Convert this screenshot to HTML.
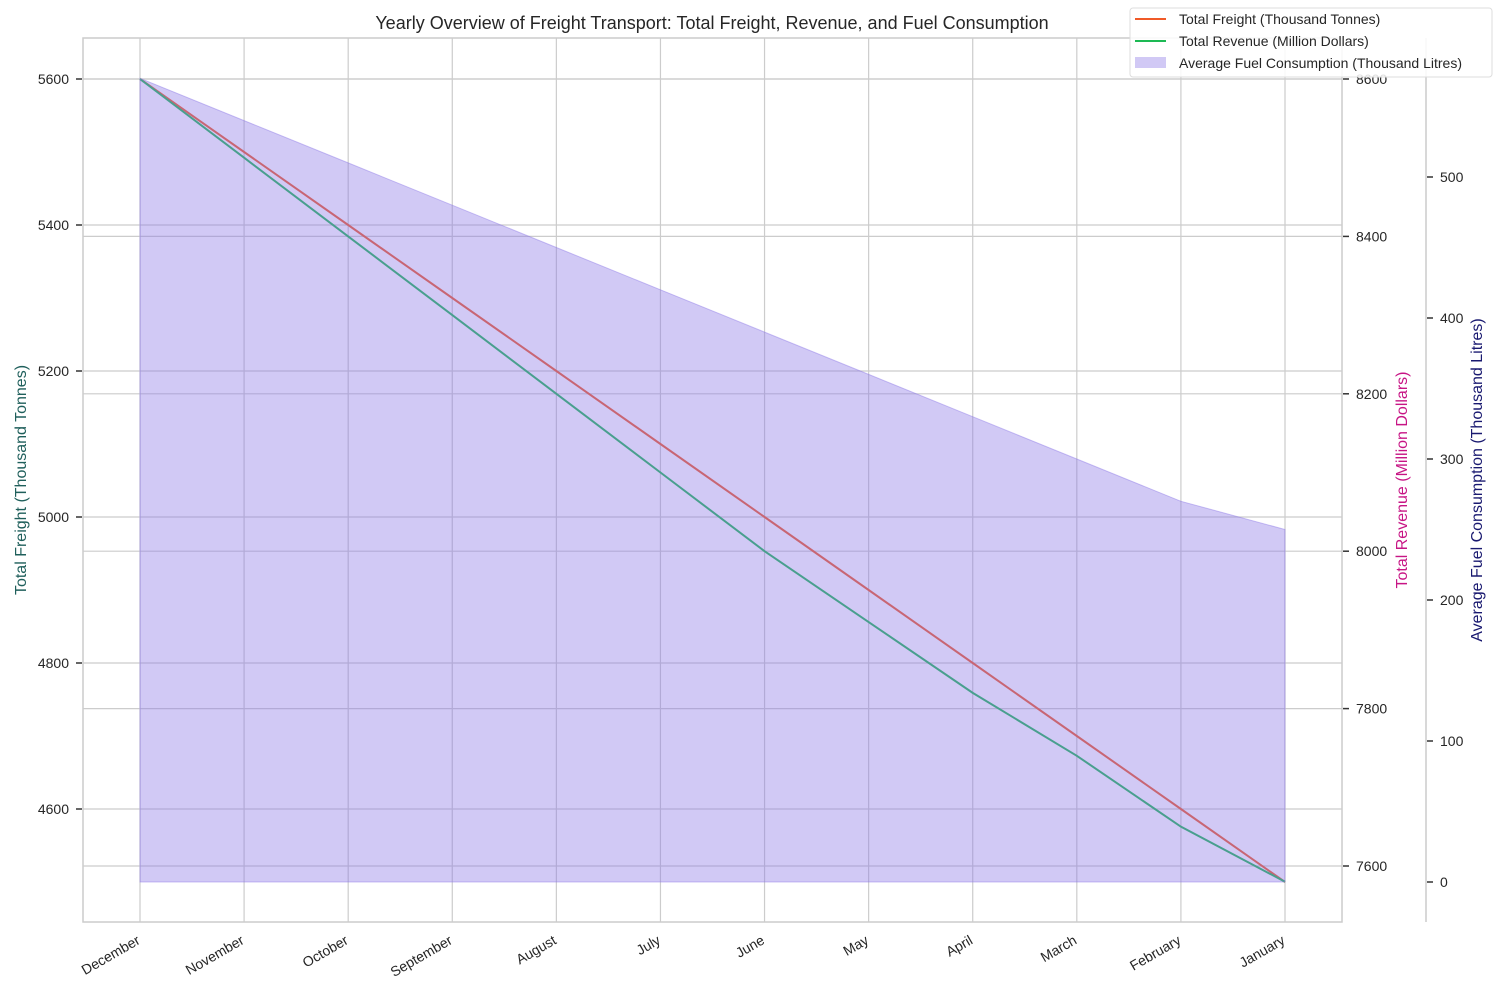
<!DOCTYPE html>
<html><head><meta charset="utf-8"><style>
body{margin:0;background:#fff;font-family:"Liberation Sans",Arial,sans-serif}
svg text{font-family:"Liberation Sans",Arial,sans-serif;fill:#262626}
</style></head><body>
<svg id="c" width="1500" height="1000" xmlns="http://www.w3.org/2000/svg"></svg>
<script>
const months=["December","November","October","September","August","July","June","May","April","March","February","January"];
const freight=[5600,5500,5400,5300,5200,5100,5000,4900,4800,4700,4600,4500];
const revenue=[8600,8500,8400,8300,8200,8100,8000,7910,7820,7740,7650,7580];
const fuel=[570,540,510,480,450,420,390,360,330,300,270,250];
const freightTicks=[4600,4800,5000,5200,5400,5600];
const revenueTicks=[7600,7800,8000,8200,8400,8600];
const fuelTicks=[0,100,200,300,400,500];
const NS="http://www.w3.org/2000/svg";
const svg=document.getElementById('c');
const L=83,R=1342,T=38,B=922,R3=1426;
const FILL='rgba(140,120,230,0.4)';
const x=i=>140+i*(1285-140)/(months.length-1);
const yF=v=>79+(5600-v)*0.73;
const yR=v=>79+(8600-v)*(866-79)/1000;
const yU=v=>882-v*1.41;
function el(t,a,p){const e=document.createElementNS(NS,t);for(const k in a)e.setAttribute(k,a[k]);(p||svg).appendChild(e);return e;}
function txt(s,a){const e=el('text',a);e.textContent=s;return e;}
const grid=el('g',{});


months.forEach((m,i)=>el('line',{x1:x(i),x2:x(i),y1:T,y2:B,stroke:'#cccccc','stroke-width':1.2},grid));
freightTicks.forEach(v=>el('line',{x1:L,x2:R,y1:yF(v),y2:yF(v),stroke:'#cccccc','stroke-width':1.2},grid));
revenueTicks.forEach(v=>el('line',{x1:L,x2:R,y1:yR(v),y2:yR(v),stroke:'#cccccc','stroke-width':1.2},grid));
const fl=el('polyline',{points:freight.map((v,i)=>x(i)+','+yF(v)).join(' '),fill:'none',stroke:'#f05a28','stroke-width':2});


const rl=el('polyline',{points:revenue.map((v,i)=>x(i)+','+yR(v)).join(' '),fill:'none',stroke:'#1db954','stroke-width':2});


let pts=fuel.map((v,i)=>x(i)+','+yU(v)).join(' ')+' '+x(fuel.length-1)+','+yU(0)+' '+x(0)+','+yU(0);
const fa=el('polygon',{points:pts,fill:FILL,stroke:'rgba(140,120,230,0.45)','stroke-width':1});


el('rect',{x:L,y:T,width:R-L,height:B-T,fill:'none',stroke:'#cccccc','stroke-width':1.5});
el('line',{x1:R3,x2:R3,y1:T,y2:B,stroke:'#cccccc','stroke-width':1.5});
freightTicks.forEach(v=>{el('line',{x1:76,x2:82,y1:yF(v),y2:yF(v),stroke:'#333','stroke-width':1.5});
const t=txt(v,{x:69,y:yF(v)+5,'text-anchor':'end','font-size':14});

});
revenueTicks.forEach(v=>{el('line',{x1:R+1,x2:R+7,y1:yR(v),y2:yR(v),stroke:'#333','stroke-width':1.5});
const t=txt(v,{x:R+14,y:yR(v)+5,'font-size':14});

});
fuelTicks.forEach(v=>{el('line',{x1:R3+1,x2:R3+7,y1:yU(v),y2:yU(v),stroke:'#333','stroke-width':1.5});
const t=txt(v,{x:R3+14,y:yU(v)+5,'font-size':14});

});
months.forEach((m,i)=>{const t=txt(m,{x:x(i)+1,y:943,'text-anchor':'end','font-size':14,transform:`rotate(-30 ${x(i)+1} 943)`});

});
const tt=txt('Yearly Overview of Freight Transport: Total Freight, Revenue, and Fuel Consumption',{x:712,y:29,'text-anchor':'middle','font-size':18});


const a1=txt('Total Freight (Thousand Tonnes)',{x:26,y:480,'text-anchor':'middle','font-size':16,transform:'rotate(-90 26 480)',style:'fill:#1f5f5b'});


const a2=txt('Total Revenue (Million Dollars)',{x:1407,y:480,'text-anchor':'middle','font-size':16,transform:'rotate(-90 1407 480)',style:'fill:#c71585'});


const a3=txt('Average Fuel Consumption (Thousand Litres)',{x:1482,y:480,'text-anchor':'middle','font-size':16,transform:'rotate(-90 1482 480)',style:'fill:#191970'});


const lg=el('g',{});


el('rect',{x:1130,y:8,width:362,height:69,rx:3,fill:'rgba(255,255,255,0.85)',stroke:'#dddddd'},lg);
el('line',{x1:1135,x2:1166,y1:19,y2:19,stroke:'#f05a28','stroke-width':2},lg);
el('line',{x1:1135,x2:1166,y1:41,y2:41,stroke:'#1db954','stroke-width':2},lg);
el('rect',{x:1135,y:57,width:31,height:11,fill:FILL},lg);
[['Total Freight (Thousand Tonnes)',24],['Total Revenue (Million Dollars)',46],['Average Fuel Consumption (Thousand Litres)',68]].forEach(([s,y])=>{
const t=txt(s,{x:1179,y:y,'font-size':14});lg.appendChild(t);

});
</script>
</body></html>
